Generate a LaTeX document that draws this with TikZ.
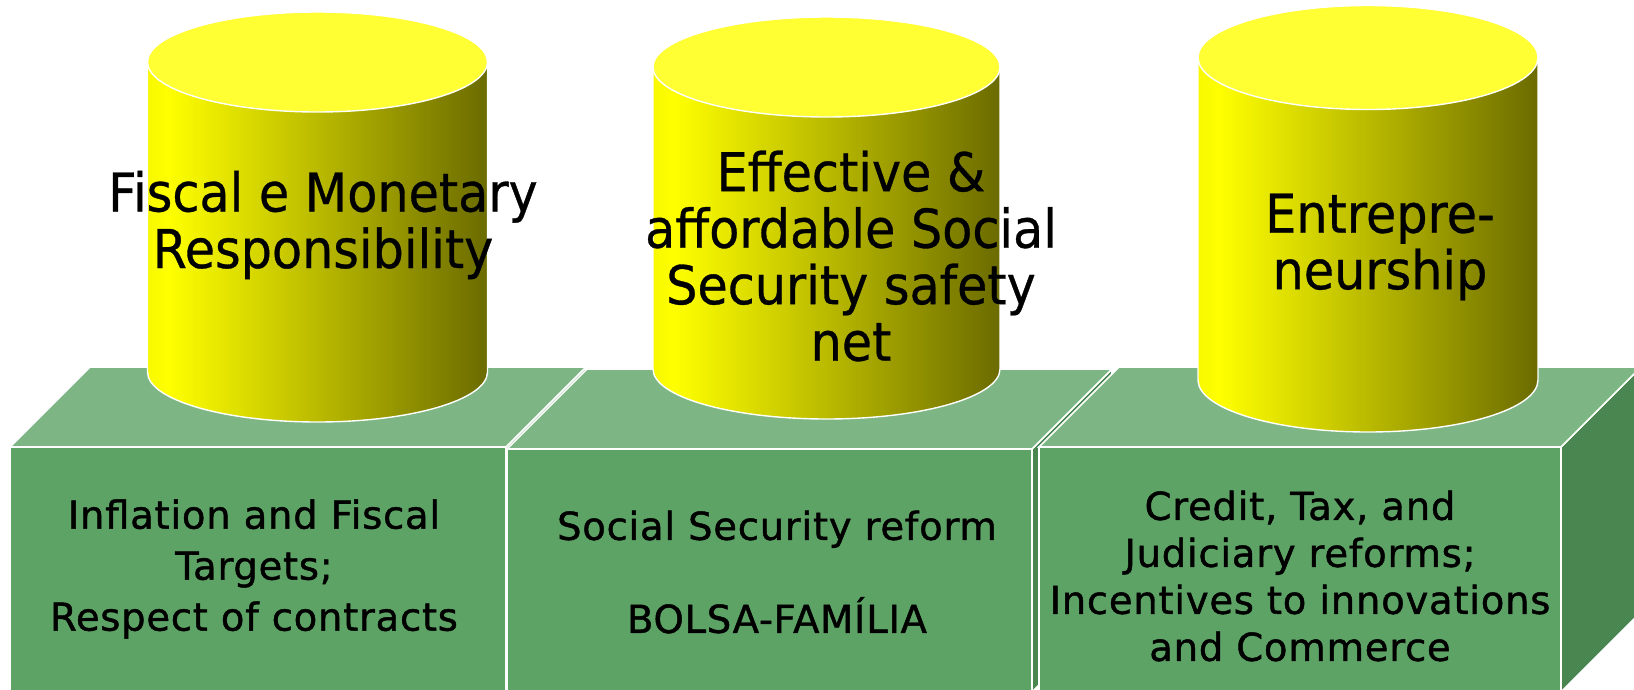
\documentclass[tikz,border=0pt]{standalone}
\usepackage{fontspec}
\newfontfamily\topfont[FakeStretch=0.92,FakeBold=0.6]{DejaVu Sans}
\newfontfamily\botfont[FakeStretch=1.0,LetterSpace=2.0,FakeBold=1.2]{DejaVu Sans}
\definecolor{frontgreen}{RGB}{94,163,102}
\definecolor{topgreen}{RGB}{125,182,132}
\definecolor{sidegreen}{RGB}{74,134,79}
\definecolor{captop}{RGB}{255,255,51}
\definecolor{cylleft}{RGB}{248,248,0}
\definecolor{cylbright}{RGB}{255,255,0}
\definecolor{cyldark}{RGB}{107,107,0}
\pgfdeclarehorizontalshading{cylshade}{100bp}{color(0bp)=(cylleft); color(25bp)=(cylleft); color(28bp)=(cylbright); color(75bp)=(cyldark); color(100bp)=(cyldark)}
\tikzset{
  face/.style={draw=white, line width=1.6pt, line join=miter},
  frontface/.style={face, fill=frontgreen},
  topface/.style={face, fill=topgreen},
  sideface/.style={face, fill=sidegreen},
  cylbody/.style={shading=cylshade, draw=white, line width=1.4pt},
  cyltop/.style={fill=captop, draw=white, line width=1.4pt},
  toplabel/.style={align=center, inner sep=0pt, text=black, font=\topfont\fontsize{53.5}{56.5}\selectfont},
  botlabel/.style={align=center, inner sep=0pt, text=black, font=\botfont\fontsize{38.5}{51}\selectfont},
}
\newcommand{\mybox}[3]{% left x, right x, front top y
  \draw[sideface] (#2,#3) -- (#2+80,#3-80) -- (#2+80,692-80) -- (#2,692) -- cycle;
  \draw[topface] (#1,#3) -- (#1+80,#3-80) -- (#2+80,#3-80) -- (#2,#3) -- cycle;
  \draw[frontface] (#1,#3) rectangle (#2,692);
}
\newcommand{\mycyl}[5]{% cx, rx, top cy, ry, bottom cy
  \draw[cylbody] (#1-#2,#3) -- (#1-#2,#5) arc[start angle=180, end angle=360, x radius=#2pt, y radius=#4pt] -- (#1+#2,#3) -- cycle;
  \draw[cyltop] (#1,#3) ellipse[x radius=#2pt, y radius=#4pt];
}
\begin{document}
\begin{tikzpicture}[x=1pt,y=-1pt]
\useasboundingbox (0,0) rectangle (1634,689);
\begin{scope}
\clip (0,0) rectangle (1634,689);
\mybox{10}{506}{447}
\mybox{507}{1032}{449}
\mybox{1039}{1561}{447}
\mycyl{317.5}{170}{62}{50}{372}
\mycyl{826.5}{173.5}{67}{50}{369}
\mycyl{1368}{170}{57.5}{52}{380}
\end{scope}
\node[toplabel] (t1) at (323,225) {Fiscal e Monetary\\Responsibility};
\node[toplabel] (t2) at (851,256) {Effective \&\\affordable Social\\Security safety\\net};
\node[toplabel] (t3) at (1380,247) {Entrepre-\\neurship};
\node[botlabel] (b1) at (254,569) {Inflation and Fiscal\\Targets;\\Respect of contracts};
\node[botlabel] (b2) at (777,572) {Social Security reform\\[42pt]BOLSA-FAMÍLIA};
\node[botlabel, font=\botfont\fontsize{38.5}{47}\selectfont] (b3) at (1300,576) {Credit, Tax, and\\Judiciary reforms;\\Incentives to innovations\\and Commerce};
\end{tikzpicture}
\end{document}
